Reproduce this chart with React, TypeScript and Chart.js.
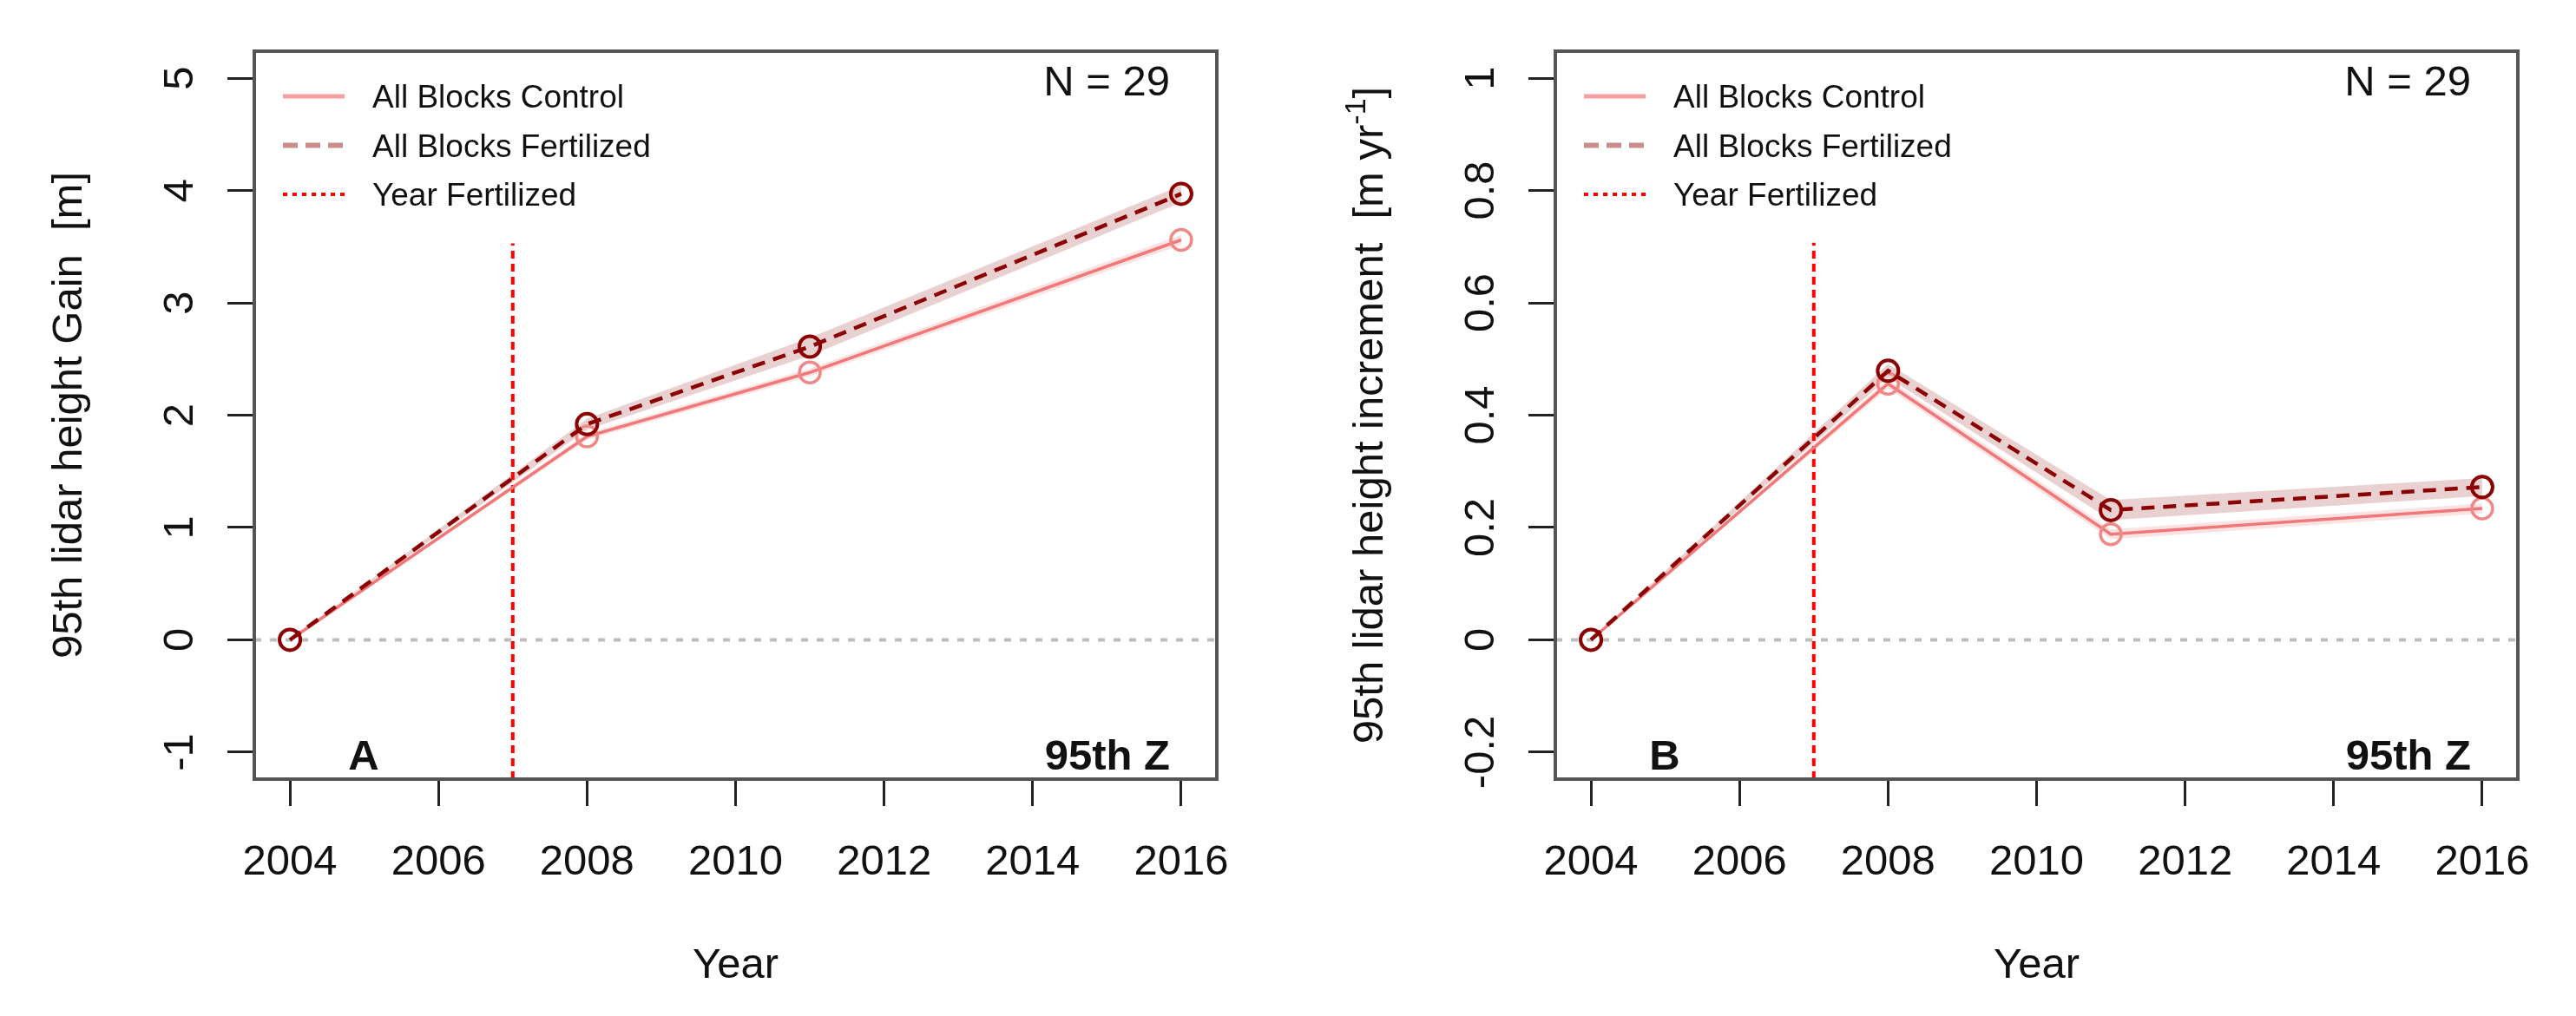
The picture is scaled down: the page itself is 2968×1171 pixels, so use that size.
import React, { useEffect, useRef } from 'react';
import { Chart, registerables } from 'chart.js';

Chart.register(...registerables);

const FONT = "'Liberation Sans', Arial, Helvetica, sans-serif";

// ---------- data ----------
const years = [2004, 2008, 2011, 2016];

const gainControl = [0, 1.81, 2.38, 3.56];
const gainFertilized = [0, 1.92, 2.61, 3.97];
const gainControlBand = [0, 0.03, 0.035, 0.045];
const gainFertilizedBand = [0, 0.05, 0.08, 0.075];

const incControl = [0, 0.456, 0.188, 0.234];
const incFertilized = [0, 0.479, 0.231, 0.272];
const incControlBand = [0, 0.008, 0.009, 0.009];
const incFertilizedBand = [0, 0.012, 0.018, 0.016];

const xTicks = [2004, 2006, 2008, 2010, 2012, 2014, 2016];
const xTickLabels = ['2004', '2006', '2008', '2010', '2012', '2014', '2016'];
const gainTicks = [-1, 0, 1, 2, 3, 4, 5];
const gainTickLabels = ['-1', '0', '1', '2', '3', '4', '5'];
const incTicks = [-0.2, 0, 0.2, 0.4, 0.6, 0.8, 1];
const incTickLabels = ['-0.2', '0', '0.2', '0.4', '0.6', '0.8', '1'];

const gainLim = [-1, 5];
const incLim = [-0.2, 1];

const yearFertilized = 2007;
const gainFertMarkTop = 3.53;
const incFertMarkTop = 0.707;

const legendLabels = ['All Blocks Control', 'All Blocks Fertilized', 'Year Fertilized'];
const gainTitle = [{ text: '95th lidar height Gain  [m]', sup: false }];
const incTitle = [
  { text: '95th lidar height increment  [m yr', sup: false },
  { text: '-1', sup: true },
  { text: ']', sup: false },
];
const xTitle = 'Year';
const nLabel = 'N = 29';
const metricLabel = '95th Z';

// ---------- styles ----------
const CONTROL = '#F07878';
const CONTROL_BAND = 'rgba(240,128,128,0.22)';
const FERT = '#8B0000';
const FERT_BAND = 'rgba(139,0,0,0.18)';
const VLINE = '#FF0000';

const CANVAS_H = 1171;
const PLOT_LEFT = 293;
const PLOT_RIGHT = 1402;
const PLOT_TOP = 59;
const PLOT_BOTTOM = 898;

type Panel = {
  left: number;
  width: number;
  control: number[];
  fert: number[];
  controlBand: number[];
  fertBand: number[];
  yTicks: number[];
  yTickLabels: string[];
  lim: number[];
  markTop: number;
  title: { text: string; sup: boolean }[];
  letter: string;
};

const panels: Panel[] = [
  {
    left: 0, width: 1484,
    control: gainControl, fert: gainFertilized,
    controlBand: gainControlBand, fertBand: gainFertilizedBand,
    yTicks: gainTicks, yTickLabels: gainTickLabels, lim: gainLim,
    markTop: gainFertMarkTop, title: gainTitle, letter: 'A',
  },
  {
    left: 1499, width: 1469,
    control: incControl, fert: incFertilized,
    controlBand: incControlBand, fertBand: incFertilizedBand,
    yTicks: incTicks, yTickLabels: incTickLabels, lim: incLim,
    markTop: incFertMarkTop, title: incTitle, letter: 'B',
  },
];

function pts(xs: number[], ys: number[], off?: number[], sign = 0) {
  return xs.map((x, i) => ({ x, y: ys[i] + (off ? sign * off[i] : 0) }));
}

function makeChart(canvas: HTMLCanvasElement, p: Panel) {
  const xPad = 0.04 * (xTicks[xTicks.length - 1] - xTicks[0]);
  const xMin = xTicks[0] - xPad;
  const xMax = xTicks[xTicks.length - 1] + xPad;
  const yPad = 0.04 * (p.lim[1] - p.lim[0]);
  const yMin = p.lim[0] - yPad;
  const yMax = p.lim[1] + yPad;

  const overlay = {
    id: 'overlay',
    beforeDatasetsDraw(chart: any) {
      const { ctx, chartArea, scales } = chart;
      const y0 = scales.y.getPixelForValue(0);
      ctx.save();
      ctx.strokeStyle = '#BDBDBD';
      ctx.lineWidth = 4;
      ctx.setLineDash([8, 10]);
      ctx.beginPath();
      ctx.moveTo(chartArea.left, y0);
      ctx.lineTo(chartArea.right, y0);
      ctx.stroke();
      ctx.restore();
    },
    afterDraw(chart: any) {
      const { ctx, chartArea, scales } = chart;
      const ca = chartArea;
      ctx.save();
      // box
      ctx.strokeStyle = '#555555';
      ctx.lineWidth = 4;
      ctx.setLineDash([]);
      ctx.strokeRect(ca.left, ca.top, ca.right - ca.left, ca.bottom - ca.top);

      ctx.fillStyle = '#111111';
      // x tick labels
      ctx.font = `49px ${FONT}`;
      ctx.textAlign = 'center';
      ctx.textBaseline = 'alphabetic';
      xTicks.forEach((v, i) => {
        ctx.fillText(xTickLabels[i], scales.x.getPixelForValue(v), ca.bottom + 110);
      });
      // x title
      ctx.fillText(xTitle, (ca.left + ca.right) / 2, ca.bottom + 229);

      // y tick labels (rotated)
      p.yTicks.forEach((v, i) => {
        ctx.save();
        ctx.translate(ca.left - 71, scales.y.getPixelForValue(v));
        ctx.rotate(-Math.PI / 2);
        ctx.textAlign = 'center';
        ctx.fillText(p.yTickLabels[i], 0, 0);
        ctx.restore();
      });

      // y title (rotated, with superscript)
      ctx.save();
      ctx.translate(ca.left - 199, (ca.top + ca.bottom) / 2);
      ctx.rotate(-Math.PI / 2);
      ctx.textAlign = 'left';
      const parts = p.title.map((t) => {
        ctx.font = t.sup ? `34px ${FONT}` : `49px ${FONT}`;
        return { ...t, w: ctx.measureText(t.text).width };
      });
      const total = parts.reduce((s, t) => s + t.w, 0);
      let tx = -total / 2;
      parts.forEach((t) => {
        ctx.font = t.sup ? `34px ${FONT}` : `49px ${FONT}`;
        ctx.fillText(t.text, tx, t.sup ? -20 : 0);
        tx += t.w;
      });
      ctx.restore();

      // N label and metric label
      ctx.font = `49px ${FONT}`;
      ctx.textAlign = 'right';
      ctx.fillText(nLabel, ca.right - 54, ca.top + 51);
      ctx.font = `bold 49px ${FONT}`;
      ctx.fillText(metricLabel, ca.right - 54, ca.bottom - 11);
      ctx.textAlign = 'center';
      ctx.fillText(p.letter, ca.left + 126, ca.bottom - 11);

      // legend
      const sx0 = ca.left + 33;
      const sx1 = ca.left + 104;
      const tx0 = ca.left + 136;
      const styles = [
        { color: 'rgba(240,128,128,0.75)', dash: [] as number[], w: 5 },
        { color: 'rgba(139,0,0,0.45)', dash: [17, 9], w: 6 },
        { color: VLINE, dash: [5, 6], w: 4 },
      ];
      legendLabels.forEach((lab, i) => {
        const cy = ca.top + 52 + i * 56.5;
        const st = styles[i];
        ctx.save();
        ctx.strokeStyle = st.color;
        ctx.lineWidth = st.w;
        ctx.setLineDash(st.dash);
        ctx.beginPath();
        ctx.moveTo(sx0, cy);
        ctx.lineTo(sx1, cy);
        ctx.stroke();
        ctx.restore();
        ctx.font = `37px ${FONT}`;
        ctx.textAlign = 'left';
        ctx.fillStyle = '#111111';
        ctx.fillText(lab, tx0, cy + 13);
      });
      ctx.restore();
    },
  };

  return new Chart(canvas, {
    type: 'line',
    data: {
      datasets: [
        {
          label: 'fert',
          data: pts(years, p.fert),
          borderColor: FERT,
          borderWidth: 4.5,
          borderDash: [15, 10],
          pointRadius: 12,
          pointBorderWidth: 4,
          pointBorderColor: FERT,
          pointBackgroundColor: 'rgba(0,0,0,0)',
          fill: false,
          order: 0,
        },
        {
          label: 'control',
          data: pts(years, p.control),
          borderColor: CONTROL,
          borderWidth: 3.5,
          pointRadius: 12,
          pointBorderWidth: 3.5,
          pointBorderColor: '#F08888',
          pointBackgroundColor: 'rgba(0,0,0,0)',
          fill: false,
          order: 1,
        },
        {
          label: 'year fertilized',
          data: [{ x: yearFertilized, y: yMin }, { x: yearFertilized, y: p.markTop }],
          borderColor: VLINE,
          borderWidth: 4,
          borderDash: [9, 6],
          pointRadius: 0,
          fill: false,
          order: 2,
        },
        {
          label: 'fert low',
          data: pts(years, p.fert, p.fertBand, -1),
          borderWidth: 0,
          borderColor: 'rgba(0,0,0,0)',
          pointRadius: 0,
          fill: false,
          order: 4,
        },
        {
          label: 'fert high',
          data: pts(years, p.fert, p.fertBand, 1),
          borderWidth: 0,
          borderColor: 'rgba(0,0,0,0)',
          backgroundColor: FERT_BAND,
          pointRadius: 0,
          fill: 3,
          order: 3,
        },
        {
          label: 'control low',
          data: pts(years, p.control, p.controlBand, -1),
          borderWidth: 0,
          borderColor: 'rgba(0,0,0,0)',
          pointRadius: 0,
          fill: false,
          order: 6,
        },
        {
          label: 'control high',
          data: pts(years, p.control, p.controlBand, 1),
          borderWidth: 0,
          borderColor: 'rgba(0,0,0,0)',
          backgroundColor: CONTROL_BAND,
          pointRadius: 0,
          fill: 5,
          order: 5,
        },
      ],
    },
    options: {
      animation: false,
      responsive: false,
      devicePixelRatio: 1,
      layout: { padding: { left: 0, top: PLOT_TOP, right: p.width - PLOT_RIGHT, bottom: 0 } },
      plugins: { legend: { display: false }, tooltip: { enabled: false }, title: { display: false } },
      elements: { line: { tension: 0 } },
      scales: {
        x: {
          type: 'linear',
          min: xMin,
          max: xMax,
          afterBuildTicks: (s: any) => { s.ticks = xTicks.map((v) => ({ value: v })); },
          afterFit: (s: any) => { s.height = CANVAS_H - PLOT_BOTTOM; },
          ticks: { display: false },
          border: { display: false },
          grid: { display: true, drawOnChartArea: false, drawTicks: true, tickLength: 31, color: '#222222', lineWidth: 3 },
        },
        y: {
          type: 'linear',
          min: yMin,
          max: yMax,
          afterBuildTicks: (s: any) => { s.ticks = p.yTicks.map((v) => ({ value: v })); },
          afterFit: (s: any) => { s.width = PLOT_LEFT; },
          ticks: { display: false },
          border: { display: false },
          grid: { display: true, drawOnChartArea: false, drawTicks: true, tickLength: 31, color: '#222222', lineWidth: 3 },
        },
      },
    } as any,
    plugins: [overlay],
  });
}

function PanelChart({ p }: { p: Panel }) {
  const ref = useRef<HTMLCanvasElement | null>(null);
  useEffect(() => {
    if (!ref.current) return;
    const c = makeChart(ref.current, p);
    return () => c.destroy();
  }, [p]);
  return (
    <canvas
      ref={ref}
      width={p.width}
      height={CANVAS_H}
      style={{ position: 'absolute', left: p.left, top: 0, width: p.width, height: CANVAS_H, display: 'block' }}
    />
  );
}

export default function App() {
  return (
    <div style={{ position: 'absolute', left: 0, top: 0, width: 2968, height: CANVAS_H, background: '#ffffff', overflow: 'hidden' }}>
      {panels.map((p, i) => (
        <PanelChart key={i} p={p} />
      ))}
    </div>
  );
}
